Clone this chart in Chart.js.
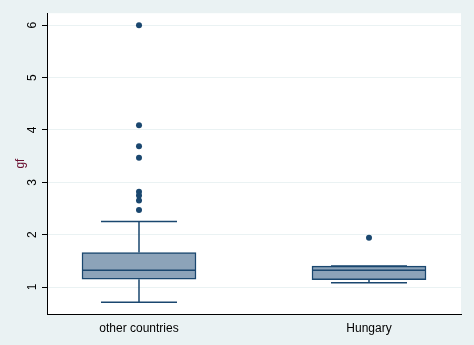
<!DOCTYPE html>
<html>
<head>
<meta charset="utf-8">
<script src="https://cdn.jsdelivr.net/npm/chart.js@4"></script>
<style>
  html, body { margin: 0; padding: 0; background: #eaf2f3; }
  #wrap { width: 474px; height: 345px; }
</style>
</head>
<body>
<div id="wrap"><canvas id="chartGf" width="474" height="345"></canvas></div>
<script>
// box plot of gf by group
var groups = ['other countries', 'Hungary'];
var q1 = [1.15, 1.14];
var medians = [1.32, 1.32];
var q3 = [1.66, 1.40];
var whiskerLow = [0.71, 1.08];
var whiskerHigh = [2.25, 1.40];
var outliersOther = [6.0, 4.09, 3.69, 3.47, 2.82, 2.75, 2.65, 2.47];
var outliersHungary = [1.94];
var yTicks = [1, 2, 3, 4, 5, 6];

var navy = '#1a476f';
var boxFill = '#8ca3b9';

var boxData = groups.map(function (g, i) {
    return { x: i + 1, y: [q1[i], q3[i]] };
});
var outlierData = outliersOther.map(function (v) { return { x: 1, y: v }; })
    .concat(outliersHungary.map(function (v) { return { x: 2, y: v }; }));

// white plot region
var plotBg = {
    id: 'plotBg',
    beforeDraw: function (chart) {
        var a = chart.chartArea;
        var ctx = chart.ctx;
        ctx.save();
        ctx.fillStyle = '#ffffff';
        ctx.fillRect(a.left, a.top, a.right - a.left, a.bottom - a.top);
        ctx.restore();
    }
};

// whiskers and caps go under the boxes, medians on top
var boxLines = {
    id: 'boxLines',
    beforeDatasetsDraw: function (chart) {
        var ctx = chart.ctx;
        var xs = chart.scales.x, ys = chart.scales.y;
        var capHalf = 38;
        ctx.save();
        ctx.strokeStyle = navy;
        ctx.lineWidth = 1.5;
        groups.forEach(function (g, i) {
            var cx = xs.getPixelForValue(i + 1);
            var yQ1 = ys.getPixelForValue(q1[i]);
            var yQ3 = ys.getPixelForValue(q3[i]);
            var yLo = ys.getPixelForValue(whiskerLow[i]);
            var yHi = ys.getPixelForValue(whiskerHigh[i]);
            ctx.beginPath();
            ctx.moveTo(cx, yQ3); ctx.lineTo(cx, yHi);
            ctx.moveTo(cx, yQ1); ctx.lineTo(cx, yLo);
            ctx.moveTo(cx - capHalf, yHi); ctx.lineTo(cx + capHalf, yHi);
            ctx.moveTo(cx - capHalf, yLo); ctx.lineTo(cx + capHalf, yLo);
            ctx.stroke();
        });
        ctx.restore();
    },
    afterDatasetsDraw: function (chart) {
        var ctx = chart.ctx;
        var xs = chart.scales.x, ys = chart.scales.y;
        var boxHalf = 57;
        ctx.save();
        ctx.strokeStyle = navy;
        ctx.lineWidth = 1.5;
        groups.forEach(function (g, i) {
            var cx = xs.getPixelForValue(i + 1);
            var yMed = ys.getPixelForValue(medians[i]);
            ctx.beginPath();
            ctx.moveTo(cx - boxHalf, yMed); ctx.lineTo(cx + boxHalf, yMed);
            ctx.stroke();
        });
        ctx.restore();
    }
};

var ctxGf = document.getElementById('chartGf').getContext('2d');
var chartGf = new Chart(ctxGf, {
    type: 'bar',
    data: {
        datasets: [{
            label: 'gf',
            data: boxData,
            backgroundColor: boxFill,
            borderColor: navy,
            borderWidth: 1.5,
            borderSkipped: false,
            barThickness: 114
        }, {
            type: 'scatter',
            label: 'outliers',
            data: outlierData,
            pointStyle: 'circle',
            pointRadius: 3,
            backgroundColor: navy,
            borderWidth: 0
        }]
    },
    options: {
        responsive: false,
        animation: false,
        devicePixelRatio: 1,
        layout: { padding: { top: 13, right: 13, left: 0, bottom: 0 } },
        plugins: {
            legend: { display: false },
            tooltip: { enabled: false }
        },
        scales: {
            x: {
                type: 'linear',
                offset: false,
                min: 0.6,
                max: 2.4,
                afterBuildTicks: function (scale) {
                    scale.ticks = groups.map(function (g, i) { return { value: i + 1 }; });
                },
                afterFit: function (scale) { scale.height = 31; },
                grid: { display: false, drawTicks: false },
                border: { display: true, color: '#000', width: 1 },
                ticks: {
                    color: '#000',
                    padding: 7,
                    font: { family: 'Arial, "Liberation Sans"', size: 12 },
                    callback: function (value) { return groups[value - 1]; }
                }
            },
            y: {
                min: 0.485,
                max: 6.229,
                afterBuildTicks: function (scale) {
                    scale.ticks = yTicks.map(function (v) { return { value: v }; });
                },
                afterFit: function (scale) { scale.width = 47; },
                grid: { color: '#eaf2f3', tickColor: '#000', tickLength: 5, lineWidth: 1 },
                border: { display: true, color: '#000', width: 1 },
                ticks: {
                    color: '#000',
                    minRotation: 90,
                    maxRotation: 90,
                    crossAlign: 'center',
                    padding: 6,
                    font: { family: 'Arial, "Liberation Sans"', size: 12 }
                },
                title: {
                    display: true,
                    text: 'gf',
                    color: '#6a1030',
                    padding: { top: 13, bottom: 0 },
                    font: { family: 'Arial, "Liberation Sans"', size: 12 }
                }
            }
        }
    },
    plugins: [plotBg, boxLines]
});
</script>
</body>
</html>
